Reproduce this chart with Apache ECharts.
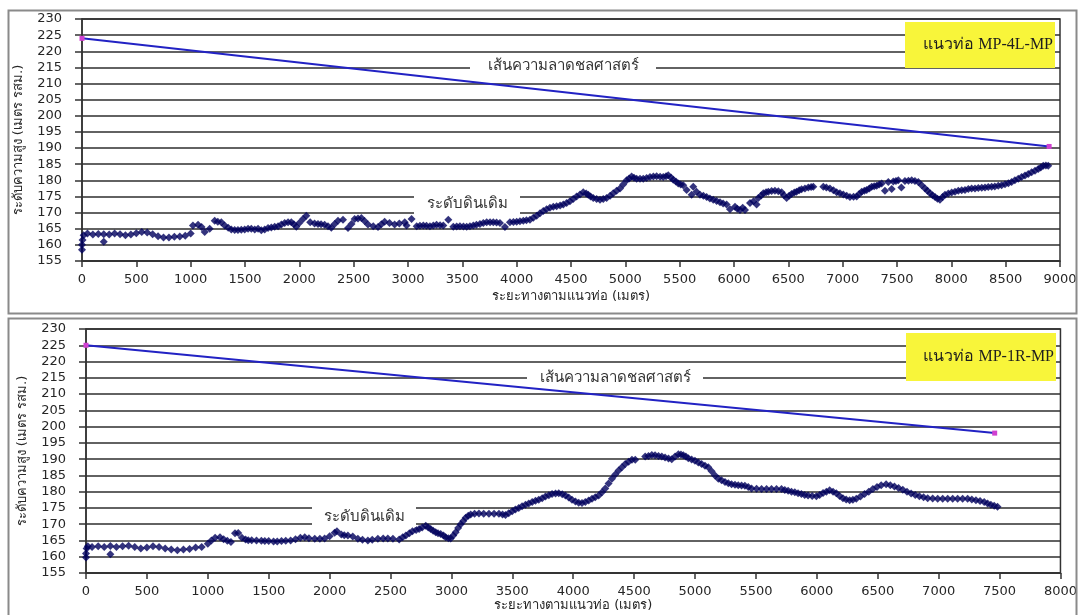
<!DOCTYPE html>
<html><head><meta charset="utf-8">
<script src="https://cdn.jsdelivr.net/npm/echarts@6/dist/echarts.min.js"></script>
<style>html,body{margin:0;padding:0;background:#fff}#c{width:1080px;height:615px}</style>
</head><body><div id="c"></div>
<script>
// ---------- DATA ----------
const yTitle = 'ระดับความสูง (เมตร รสม.)';
const xTitle = 'ระยะทางตามแนวท่อ (เมตร)';
const hglLabel = 'เส้นความลาดชลศาสตร์';
const groundLabel = 'ระดับดินเดิม';
const pipe1Name = 'แนวท่อ MP-4L-MP';
const pipe2Name = 'แนวท่อ MP-1R-MP';

// Hydraulic grade line (start / end)
const hgl1 = [[0, 224], [8900, 190.5]];
const hgl2 = [[0, 225], [7460, 198]];

// Original ground level, line MP-4L-MP
const ground1 = [[0,158.5],[0,160],[5,161.5],[15,163],[50,163.5],[100,163.2],[150,163.4],[200,161],[200,163.3],[250,163.2],[300,163.5],[350,163.3],[400,163.0],[450,163.2],[500,163.6],[550,164.0],[600,163.8],[650,163.3],[700,162.7],[750,162.3],[800,162.3],[850,162.5],[900,162.6],[950,162.8],[1000,163.5],[1021,166],[1068,166.2],[1100,165.5],[1129,164],[1175,165],[1221,167.5],[1250,167.2],[1282,167],[1313,166],[1345,165.3],[1374,164.8],[1405,164.6],[1435,164.6],[1466,164.7],[1497,164.8],[1528,165],[1558,165],[1590,164.8],[1620,165],[1650,164.5],[1681,164.8],[1712,165.2],[1742,165.4],[1773,165.6],[1804,165.8],[1835,166.3],[1865,166.8],[1896,167],[1926,167],[1950,166.4],[1972,165.6],[2000,166.8],[2034,168.0],[2064,169],[2100,167],[2140,166.6],[2172,166.5],[2200,166.4],[2233,166.2],[2264,165.8],[2294,165.3],[2325,166.5],[2356,167.5],[2402,167.8],[2448,165.2],[2480,166.5],[2509,168],[2540,168.2],[2571,168.3],[2600,167.4],[2632,166.3],[2680,165.8],[2724,165.5],[2755,166.4],[2785,167.2],[2830,166.8],[2877,166.3],[2920,166.6],[2970,167],[2987,166],[3033,168],[3080,165.8],[3110,165.9],[3141,166],[3170,165.9],[3202,165.8],[3233,166],[3263,166.2],[3295,166.1],[3325,166],[3371,167.8],[3417,165.6],[3448,165.7],[3478,165.8],[3510,165.7],[3540,165.6],[3570,165.8],[3601,166],[3630,166.2],[3662,166.5],[3693,166.8],[3724,167],[3755,167],[3785,167],[3815,166.9],[3846,166.8],[3892,165.5],[3938,167],[3970,167.1],[4000,167.2],[4030,167.3],[4061,167.5],[4090,167.6],[4122,167.8],[4153,168.4],[4184,169],[4215,169.8],[4245,170.5],[4275,171],[4306,171.5],[4337,171.8],[4368,172],[4400,172.2],[4429,172.5],[4460,173],[4490,173.5],[4520,174.2],[4552,175],[4583,175.6],[4613,176.3],[4640,175.9],[4659,175.5],[4680,175],[4705,174.5],[4736,174.2],[4767,174],[4797,174.2],[4828,174.5],[4860,175.2],[4889,176],[4920,176.8],[4951,177.5],[4980,178.7],[5012,180],[5035,180.6],[5058,181.2],[5080,180.8],[5104,180.5],[5135,180.5],[5165,180.5],[5196,180.7],[5227,181],[5258,181.2],[5288,181.3],[5320,181.1],[5349,181],[5375,181.3],[5395,181.6],[5420,180.9],[5441,180.2],[5465,179.6],[5487,179],[5510,178.7],[5533,178.5],[5564,177],[5610,175.5],[5625,178],[5655,176.5],[5687,175.5],[5718,175.2],[5748,174.8],[5778,174.4],[5809,174],[5840,173.6],[5871,173.2],[5900,172.8],[5932,172.5],[5963,171],[6009,171.8],[6030,171.2],[6055,170.8],[6080,171.5],[6101,170.8],[6147,173],[6180,173.5],[6208,172.5],[6224,174.5],[6250,175.3],[6270,176],[6295,176.3],[6316,176.5],[6346,176.7],[6377,176.8],[6408,176.6],[6438,176.3],[6460,175.4],[6484,174.5],[6507,175.2],[6530,175.8],[6555,176.2],[6576,176.5],[6600,176.9],[6622,177.2],[6653,177.5],[6684,177.8],[6710,177.9],[6730,178],[6822,178],[6850,177.8],[6883,177.5],[6915,176.9],[6945,176.3],[6975,176],[7006,175.6],[7037,175.2],[7067,174.8],[7100,174.9],[7129,175],[7152,175.8],[7175,176.5],[7200,176.8],[7221,177],[7245,177.5],[7267,178],[7290,178.2],[7313,178.3],[7336,178.7],[7359,179],[7389,176.8],[7420,179.5],[7451,177.3],[7466,179.6],[7490,179.8],[7512,180],[7540,177.8],[7573,179.8],[7605,179.9],[7635,180],[7665,179.8],[7696,179.5],[7727,178.5],[7758,177.5],[7780,176.8],[7804,176],[7827,175.4],[7850,174.8],[7872,174.3],[7895,174],[7920,174.8],[7942,175.5],[7972,175.9],[8003,176.2],[8034,176.5],[8064,176.8],[8095,176.9],[8126,177],[8156,177.3],[8187,177.5],[8218,177.5],[8248,177.6],[8280,177.7],[8310,177.8],[8340,177.9],[8371,178],[8400,178.1],[8432,178.3],[8463,178.5],[8494,178.8],[8525,179.1],[8555,179.5],[8585,180],[8616,180.5],[8647,181],[8678,181.5],[8708,182],[8739,182.5],[8770,183],[8800,183.5],[8823,184],[8846,184.5],[8870,184.6],[8892,184.5]];

// Original ground level, line MP-1R-MP
const ground2 = [[0,159.8],[0,161],[5,162.5],[15,163.2],[50,163],[100,163.2],[150,163],[200,160.8],[200,163.3],[250,163],[300,163.2],[350,163.4],[400,163],[450,162.5],[500,162.8],[550,163.2],[600,163],[650,162.5],[700,162.2],[750,162],[800,162.2],[850,162.4],[900,162.8],[950,163],[1000,164],[1030,165],[1060,165.8],[1100,166],[1130,165.4],[1160,164.9],[1190,164.5],[1223,167.2],[1250,167.3],[1280,165.8],[1310,165.3],[1332,165.1],[1360,165.1],[1400,165],[1440,164.9],[1468,164.8],[1500,164.8],[1540,164.7],[1570,164.7],[1605,164.8],[1640,164.9],[1680,165],[1720,165.4],[1760,165.8],[1796,166],[1830,165.7],[1878,165.5],[1920,165.5],[1959,165.6],[2000,166.3],[2041,167.4],[2060,167.8],[2096,166.8],[2120,166.6],[2150,166.5],[2190,166.2],[2232,165.5],[2270,165.2],[2314,165],[2350,165.2],[2396,165.5],[2440,165.6],[2478,165.6],[2520,165.5],[2571,165.3],[2600,166],[2626,166.5],[2655,167.2],[2680,167.8],[2710,168.2],[2735,168.5],[2760,169],[2789,169.5],[2810,169],[2830,168.5],[2850,168],[2871,167.5],[2890,167.2],[2912,167],[2935,166.5],[2953,166],[2975,165.7],[2994,165.6],[3015,166.5],[3035,167.5],[3055,168.8],[3076,170],[3097,171],[3117,172],[3138,172.6],[3158,173],[3190,173.2],[3226,173.3],[3265,173.2],[3308,173.2],[3350,173.2],[3390,173.2],[3420,173],[3444,172.8],[3470,173.4],[3499,174],[3525,174.5],[3553,175],[3580,175.5],[3608,176],[3635,176.4],[3663,176.8],[3690,177.2],[3717,177.5],[3745,178],[3772,178.5],[3800,178.9],[3826,179.3],[3855,179.4],[3881,179.5],[3910,179.2],[3936,178.8],[3963,178.2],[3990,177.5],[4018,177],[4045,176.6],[4072,176.5],[4099,176.8],[4127,177.3],[4154,177.8],[4181,178.3],[4209,178.8],[4236,179.8],[4263,181],[4290,182.5],[4318,184],[4345,185.3],[4372,186.5],[4400,187.5],[4427,188.5],[4455,189.2],[4482,189.8],[4509,189.8],[4591,190.8],[4618,191],[4645,191.3],[4672,191.2],[4700,191],[4727,190.8],[4754,190.5],[4782,190.2],[4809,190],[4836,190.8],[4863,191.5],[4884,191.4],[4904,191.2],[4925,190.8],[4945,190.3],[4972,189.9],[4999,189.5],[5027,189],[5054,188.5],[5082,188],[5109,187.5],[5136,186.3],[5164,185],[5191,184],[5218,183.5],[5246,183],[5273,182.6],[5300,182.3],[5328,182.1],[5355,182],[5382,181.9],[5409,181.8],[5437,181.4],[5464,181],[5505,180.9],[5546,180.8],[5587,180.8],[5628,180.8],[5669,180.8],[5710,180.8],[5737,180.5],[5764,180.3],[5792,180],[5819,179.8],[5846,179.5],[5873,179.3],[5900,179],[5928,178.8],[5962,178.7],[5996,178.6],[6023,179],[6051,179.6],[6078,180],[6105,180.4],[6133,180],[6160,179.5],[6187,178.7],[6214,178],[6241,177.6],[6269,177.4],[6296,177.5],[6324,177.8],[6358,178.5],[6392,179.3],[6426,180],[6460,180.8],[6494,181.4],[6528,182],[6569,182.3],[6603,182],[6637,181.6],[6671,181.1],[6706,180.6],[6740,180],[6774,179.4],[6808,179],[6842,178.6],[6876,178.3],[6910,178],[6951,177.9],[6992,177.8],[7033,177.8],[7074,177.8],[7115,177.8],[7156,177.8],[7197,177.8],[7238,177.8],[7272,177.6],[7306,177.4],[7340,177.1],[7374,176.8],[7402,176.4],[7429,176],[7456,175.7],[7483,175.4]];

// ---------- CHART ----------
const FONT = 'DejaVu Sans, Noto Sans, sans-serif';
const TXT = '#262626';
const GRIDS = [
  {left: 82, top: 19, width: 978, height: 242},
  {left: 86, top: 329, width: 977, height: 244}
];

function yAx(gi) {
  return {
    type: 'value', gridIndex: gi, min: 155, max: 230, interval: 5,
    name: yTitle, nameLocation: 'middle', nameGap: 57,
    nameTextStyle: {fontFamily: FONT, fontSize: 13, color: TXT},
    axisLine: {show: true, lineStyle: {color: '#333', width: 1.5}},
    axisTick: {show: true, length: 7, lineStyle: {color: '#333', width: 1.5}},
    axisLabel: {margin: 20, fontFamily: FONT, fontSize: 13, color: TXT, formatter: v => String(v)},
    splitLine: {show: true, lineStyle: {color: '#2e2e2e', width: 1.5}}
  };
}
function xAx(gi, max, gap) {
  return {
    type: 'value', gridIndex: gi, min: 0, max: max, interval: 500,
    name: xTitle, nameLocation: 'middle', nameGap: gap,
    nameTextStyle: {fontFamily: FONT, fontSize: 13, color: TXT},
    axisLine: {show: true, onZero: false, lineStyle: {color: '#333', width: 1.5}},
    axisTick: {show: true, length: 6, lineStyle: {color: '#333', width: 1.5}},
    axisLabel: {margin: 12, fontFamily: FONT, fontSize: 13, color: TXT, formatter: v => String(v)},
    splitLine: {show: false}
  };
}
function groundSeries(i, data) {
  return {type: 'scatter', xAxisIndex: i, yAxisIndex: i, data: data,
    symbol: 'diamond', symbolSize: 8, itemStyle: {color: '#00005c'}, z: 3, animation: false};
}
function hglSeries(i, data) {
  return {type: 'line', xAxisIndex: i, yAxisIndex: i, data: data,
    symbol: 'rect', symbolSize: 5, showSymbol: true,
    lineStyle: {color: '#2222c4', width: 2}, itemStyle: {color: '#d040d0'}, z: 4, animation: false};
}

function labelBox(cx, cy, w, h, text) {
  return [
    {type: 'rect', left: cx - w / 2, top: cy - h / 2, shape: {width: w, height: h}, style: {fill: '#fff'}, z: 10},
    {type: 'text', x: cx, y: cy, style: {text: text, fill: '#333', font: '15px ' + FONT, align: 'center', verticalAlign: 'middle'}, z: 11}
  ];
}
function yellowBox(x, y, w, h, text) {
  return [
    {type: 'rect', left: x, top: y, shape: {width: w, height: h}, style: {fill: '#f8f53a'}, z: 10},
    {type: 'text', x: x + w - 2, y: y + h / 2, style: {text: text, fill: '#1e1e1e', font: '16px Liberation Serif, serif', align: 'right', verticalAlign: 'middle'}, z: 11}
  ];
}

const chart = echarts.init(document.getElementById('c'), null, {renderer: 'canvas'});
chart.setOption({
  backgroundColor: '#fff',
  animation: false,
  grid: GRIDS.map(g => Object.assign({show: true, borderColor: '#333', borderWidth: 1.5, backgroundColor: 'transparent'}, g)),
  xAxis: [xAx(0, 9000, 29), xAx(1, 8000, 26)],
  yAxis: [yAx(0), yAx(1)],
  series: [groundSeries(0, ground1), hglSeries(0, hgl1), groundSeries(1, ground2), hglSeries(1, hgl2)],
  graphic: [
    {type: 'rect', left: 6, top: 8, shape: {width: 1068, height: 303}, style: {fill: 'none', stroke: '#8a8a8a', lineWidth: 2}, z: 1},
    {type: 'rect', left: 6, top: 316, shape: {width: 1068, height: 310}, style: {fill: 'none', stroke: '#8a8a8a', lineWidth: 2}, z: 1},
    ...labelBox(563, 66, 186, 16, hglLabel),
    ...labelBox(467, 204, 106, 20, groundLabel),
    ...labelBox(615, 378, 176, 16, hglLabel),
    ...labelBox(364, 517, 104, 20, groundLabel),
    ...yellowBox(905, 22, 150, 46, pipe1Name),
    ...yellowBox(906, 333, 150, 48, pipe2Name)
  ]
});
</script></body></html>
